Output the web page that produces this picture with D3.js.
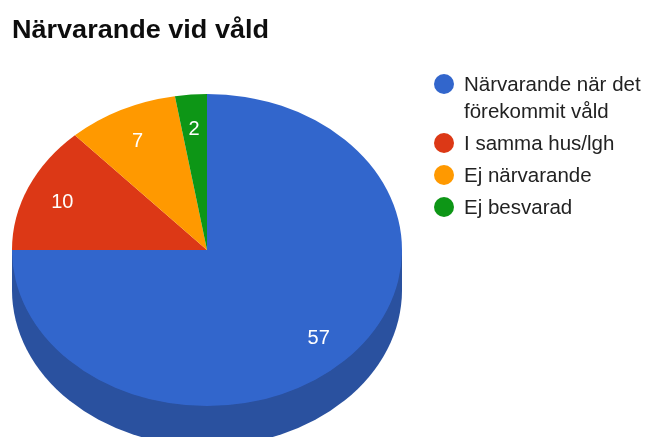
<!DOCTYPE html>
<html><head><meta charset="utf-8">
<script src="https://cdnjs.cloudflare.com/ajax/libs/d3/7.8.5/d3.min.js"></script>
<style>html,body{margin:0;padding:0;background:#fff;overflow:hidden}svg{display:block}text{font-family:"Liberation Sans",Arial,sans-serif}</style>
</head><body><svg id="c" width="645" height="437"></svg>
<script>
const titleText = "Närvarande vid våld";
const categories = ["Närvarande när det förekommit våld", "I samma hus/lgh", "Ej närvarande", "Ej besvarad"];
const legendLines = [["Närvarande när det", "förekommit våld"], ["I samma hus/lgh"], ["Ej närvarande"], ["Ej besvarad"]];
const values = [57, 10, 7, 2];
const colors = ["#3366cc", "#dc3912", "#ff9900", "#109618"];
const wallColors = ["#2a519f", "#a82c0e", "#c27400", "#0c7212"];

const svg = d3.select("#c");
const W = 645, H = 437;
const cx = 207, cy = 250, rx = 195, ry = 156, depth = 40;

const defs = svg.append("defs");
defs.append("filter").attr("id","soft").attr("x","-5%").attr("y","-5%").attr("width","110%").attr("height","110%")
  .append("feGaussianBlur").attr("stdDeviation",0.45);
const root = svg.append("g").attr("filter","url(#soft)");
root.append("rect").attr("width",W).attr("height",H).attr("fill","#fff");

root.append("text").attr("x",12).attr("y",38).attr("font-size",26).attr("font-weight","bold")
  .attr("fill","#111").attr("textLength",257).attr("lengthAdjust","spacingAndGlyphs").text(titleText);

const pie = d3.pie().value(d=>d).sort(null);
const arcs = pie(values);
const arc = d3.arc().innerRadius(0).outerRadius(rx);
const labelArc = d3.arc().innerRadius(rx*0.81).outerRadius(rx*0.81);
const sy = ry/rx;

const wall = root.append("g").attr("transform",`translate(${cx},${cy}) scale(1,${sy})`);
wall.append("rect").attr("x",-rx).attr("y",0).attr("width",rx*2).attr("height",depth/sy).attr("fill",wallColors[0]);
wall.append("path").attr("transform",`translate(0,${depth/sy})`)
  .attr("d",d3.arc().innerRadius(0).outerRadius(rx)({startAngle:Math.PI/2,endAngle:3*Math.PI/2}))
  .attr("fill",wallColors[0]);

root.append("g").attr("transform",`translate(${cx},${cy}) scale(1,${sy})`)
  .selectAll("path").data(arcs).join("path")
  .attr("d",arc).attr("fill",(d,i)=>colors[i]);

root.append("g").selectAll("text").data(arcs).join("text")
  .attr("x",d=>cx+labelArc.centroid(d)[0])
  .attr("y",d=>cy+labelArc.centroid(d)[1]*sy*0.97)
  .attr("dy","0.35em").attr("text-anchor","middle")
  .attr("font-size",20).attr("fill","#fff").text(d=>d.data);

const lineH = 27, gap = 32;
let y = 84;
const leg = root.append("g");
legendLines.forEach((lines,i)=>{
  leg.append("circle").attr("cx",444).attr("cy",y).attr("r",10).attr("fill",colors[i]);
  lines.forEach((t,j)=>{
    leg.append("text").attr("x",464).attr("y",y+j*lineH).attr("dy","0.33em")
      .attr("font-size",20.5).attr("fill","#222").text(t);
  });
  y += (lines.length-1)*lineH + gap;
});
</script></body></html>
